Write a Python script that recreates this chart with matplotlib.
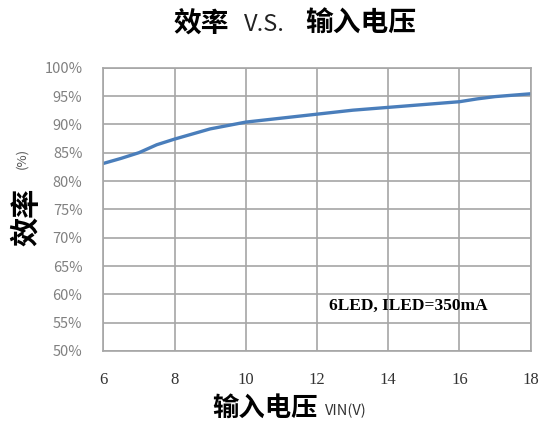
import numpy as np
import matplotlib.pyplot as plt
from matplotlib.ticker import FuncFormatter

plt.rcParams['font.family'] = ['Noto Sans CJK SC', 'DejaVu Sans']

# data
vin = [6, 6.5, 7, 7.5, 8, 8.5, 9, 9.5, 10, 11, 12, 13, 14, 15, 16, 16.5, 17, 18]
eff = [83.1, 84.0, 85.0, 86.4, 87.4, 88.3, 89.2, 89.8, 90.4, 91.1, 91.8,
       92.5, 93.0, 93.5, 94.0, 94.5, 94.9, 95.4]

x_ticks = [6, 8, 10, 12, 14, 16, 18]
y_ticks = [50, 55, 60, 65, 70, 75, 80, 85, 90, 95, 100]

fig = plt.figure(figsize=(5.53, 4.24), dpi=100)
ax = fig.add_axes([0.1868, 0.1722, 0.7729, 0.6681])

ax.plot(vin, eff, color='#4a7ebb', lw=2.4, solid_capstyle='round',
        solid_joinstyle='round')

ax.set_xlim(6, 18)
ax.set_ylim(50, 100)
ax.set_xticks(x_ticks)
ax.set_yticks(y_ticks)
ax.yaxis.set_major_formatter(FuncFormatter(lambda v, p: '%d%%' % v))
ax.grid(True, color='#a6a6a6', lw=1.2)
ax.set_axisbelow(True)
for s in ax.spines.values():
    s.set_color('#a6a6a6')
    s.set_linewidth(1.2)
ax.tick_params(length=0)
ax.tick_params(axis='x', pad=15, labelsize=12, labelcolor='#333333')
ax.tick_params(axis='y', pad=15, labelsize=10.5, labelcolor='#808080')
for t in ax.get_xticklabels():
    t.set_family('Liberation Serif')

ax.text(0.90, 0.159, '6LED, ILED=350mA', transform=ax.transAxes, ha='right',
        va='center', fontsize=12.5, fontweight='bold', family='Liberation Serif')

# title: chinese parts bold, V.S. lighter
fig.text(0.364, 0.943, '效率', ha='center', va='center',
         fontsize=20, fontweight='bold')
fig.text(0.479, 0.943, 'V.S.', ha='center', va='center',
         fontsize=17, color='#222222')
fig.text(0.652, 0.943, '输入电压', ha='center', va='center',
         fontsize=20, fontweight='bold')
fig.text(0.48, 0.038, '输入电压', ha='center', va='center',
         fontsize=19, fontweight='bold')
fig.text(0.588, 0.03, 'VIN(V)', ha='left', va='center', fontsize=10.5,
         color='#333333')
fig.text(0.047, 0.488, '效率', ha='center', va='center', rotation=90,
         fontsize=21, fontweight='bold')
fig.text(0.04, 0.627, '(%)', ha='center', va='center', rotation=90,
         fontsize=9.5, color='#555555')

fig.savefig('out.png', dpi=100)
